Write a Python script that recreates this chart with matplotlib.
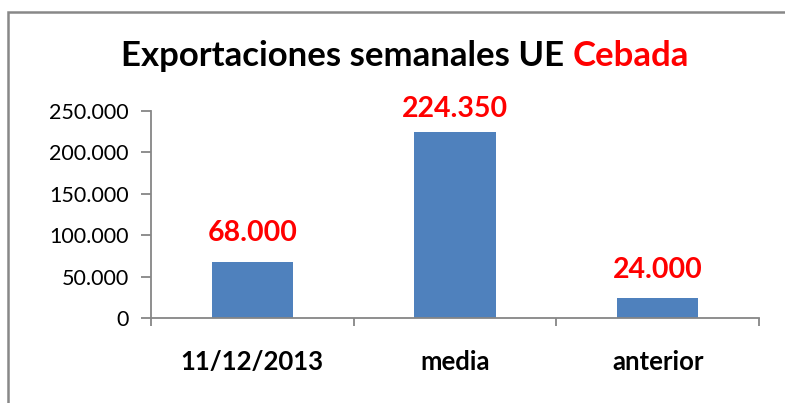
import matplotlib
matplotlib.use("Agg")
import matplotlib.pyplot as plt
from matplotlib.patches import Rectangle

plt.rcParams['font.family'] = ['Lato', 'DejaVu Sans']

categories = ["11/12/2013", "media", "anterior"]
values = [68000, 224350, 24000]
value_labels = ["68.000", "224.350", "24.000"]
yticks = [0, 50000, 100000, 150000, 200000, 250000]
ytick_labels = ["0", "50.000", "100.000", "150.000", "200.000", "250.000"]

bar_color = '#4F81BD'
axis_gray = '#868686'

fig = plt.figure(figsize=(7.85, 4.03), dpi=100)
ax = fig.add_axes([151 / 785, 1 - 318 / 403, (759 - 151) / 785, (318 - 110.7) / 403])

x = [i + 0.5 for i in range(len(categories))]
ax.bar(x, values, width=0.4, color=bar_color, zorder=2)

# label offsets in points above each bar (middle one sits closer in the original)
offsets = [11, 7, 11]
for xi, v, lab, off in zip(x, values, value_labels, offsets):
    ax.annotate(lab, (xi, v), xytext=(0, off), textcoords='offset points',
                ha='center', va='bottom', color='#FF0000', fontsize=20.5, fontweight='bold')

ax.set_xlim(0, 3)
ax.set_ylim(0, 250000)
ax.set_yticks(yticks)
ax.set_yticklabels(ytick_labels, fontsize=15.5)
ax.set_xticks([0, 1, 2, 3])
ax.set_xticklabels([])
ax.set_xticks(x, minor=True)
ax.set_xticklabels(categories, minor=True, fontsize=18.5, fontweight='bold')
ax.tick_params(axis='x', which='major', direction='out', length=6, color=axis_gray, width=1.3)
ax.tick_params(axis='x', which='minor', length=0, pad=23)
ax.tick_params(axis='y', direction='out', length=7, color=axis_gray, width=1.3, pad=9)

for side in ['top', 'right']:
    ax.spines[side].set_visible(False)
for side in ['left', 'bottom']:
    ax.spines[side].set_color(axis_gray)
    ax.spines[side].set_linewidth(1.3)

fig.text(0.73, 0.862, "Exportaciones semanales UE ", ha='right', va='center',
         fontsize=25, fontweight='bold', color='black')
fig.text(0.73, 0.862, "Cebada", ha='left', va='center',
         fontsize=25, fontweight='bold', color='#FF0000')

# outer chart border (right/bottom run off the picture)
fig.patches.append(Rectangle((8 / 785, -0.1), 1.2, 1 - 12 / 403 + 0.1,
                             transform=fig.transFigure, fill=False,
                             edgecolor='#888888', linewidth=1.8))

fig.savefig("out.png", dpi=100)
